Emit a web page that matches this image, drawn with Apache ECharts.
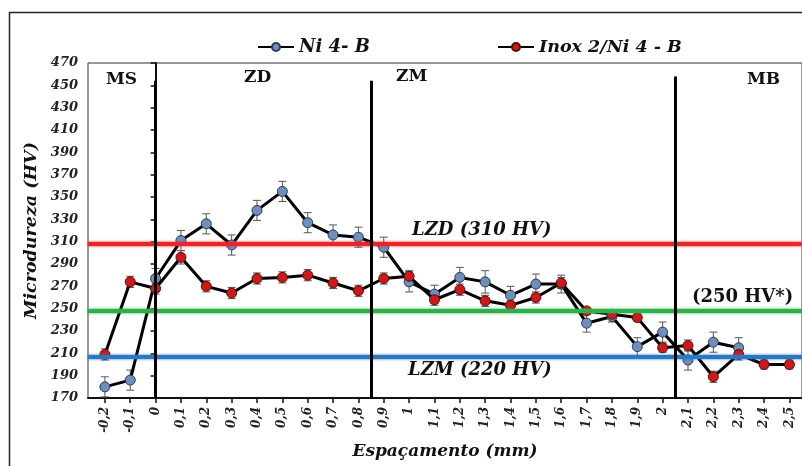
<!DOCTYPE html>
<html>
<head>
<meta charset="utf-8">
<script src="https://cdn.jsdelivr.net/npm/echarts@6/dist/echarts.min.js"></script>
<style>html,body{margin:0;padding:0;background:#fff}#c{width:802px;height:466px}</style>
</head>
<body>
<div id="c"></div>
<script>
// ---- data ----
const xLabels = ['-0,2','-0,1','0','0,1','0,2','0,3','0,4','0,5','0,6','0,7','0,8','0,9','1','1,1','1,2','1,3','1,4','1,5','1,6','1,7','1,8','1,9','2','2,1','2,2','2,3','2,4','2,5'];
const xValues = [-0.2,-0.1,0,0.1,0.2,0.3,0.4,0.5,0.6,0.7,0.8,0.9,1,1.1,1.2,1.3,1.4,1.5,1.6,1.7,1.8,1.9,2,2.1,2.2,2.3,2.4,2.5];
const ni4B = [180,186,277,311,326,307,338,355,327,316,314,305,274,263,278,274,262,272,272,237,243,216,229,204,220,215,null,null];
const ni4BErr = [9,9,9,9,9,9,9,9,9,9,9,9,9,8,9,10,8,9,8,8,5,8,9,9,9,9,null,null];
const inox2 = [209,274,268,296,270,264,277,278,280,273,266,277,279,258,267,257,253,260,273,248,245,242,215,217,189,209,200,200];
const inox2Err = [5,5,5,6,5,5,5,5,5,5,5,5,5,5,5,5,4,5,5,3,4,3,4,5,5,5,4,4];
const zoneBounds = [0, 0.85, 2.05];
const zoneTops = [454, 454, 458];
const refLevels = [308, 248, 207];
const refColors = ['#e5262b', '#2fae4e', '#2a78c0'];

const serif = 'DejaVu Serif';

function pairs(vals) { return xValues.map((x, i) => [x, vals[i]]); }
function errData(vals, errs) {
  const out = [];
  xValues.forEach((x, i) => { if (vals[i] != null && errs[i] != null) out.push([x, vals[i] - errs[i], vals[i] + errs[i]]); });
  return out;
}
function errRender(params, api) {
  const x = api.value(0);
  const lo = api.coord([x, api.value(1)]);
  const hi = api.coord([x, api.value(2)]);
  const w = 4;
  const st = { stroke: '#555', lineWidth: 1 };
  return { type: 'group', children: [
    { type: 'line', shape: { x1: lo[0], y1: lo[1], x2: hi[0], y2: hi[1] }, style: st },
    { type: 'line', shape: { x1: lo[0]-w, y1: lo[1], x2: lo[0]+w, y2: lo[1] }, style: st },
    { type: 'line', shape: { x1: hi[0]-w, y1: hi[1], x2: hi[0]+w, y2: hi[1] }, style: st }
  ]};
}
function fmtX(v) {
  let best = 0, d = 1e9;
  xValues.forEach((x, i) => { const dd = Math.abs(x - v); if (dd < d) { d = dd; best = i; } });
  return xLabels[best];
}
function txt(text, x, y, size, italic) {
  return { type: 'text', x: x, y: y, silent: true,
    style: { text: text, fontFamily: serif, fontSize: size, fontWeight: 'bold', fontStyle: italic ? 'italic' : 'normal', fill: '#111', verticalAlign: 'middle' } };
}

const chart = echarts.init(document.getElementById('c'), null, { renderer: 'canvas' });
chart.setOption({
  animation: false,
  backgroundColor: '#fff',
  textStyle: { fontFamily: serif },
  grid: { left: 88, top: 63, right: -5, bottom: 68, show: true, borderColor: '#333', borderWidth: 1, backgroundColor: 'transparent' },
  legend: [
    { data: ['Ni 4- B'], left: 252, top: 33, itemWidth: 36, itemHeight: 10, itemGap: 5,
      textStyle: { fontFamily: serif, fontWeight: 'bold', fontStyle: 'italic', fontSize: 18, color: '#111' } },
    { data: ['Inox 2/Ni 4 - B'], left: 492, top: 33, itemWidth: 36, itemHeight: 10, itemGap: 5,
      textStyle: { fontFamily: serif, fontWeight: 'bold', fontStyle: 'italic', fontSize: 17.5, color: '#111' } }
  ],
  xAxis: {
    type: 'value', min: -0.2666, max: 2.5497,
    name: 'Espaçamento (mm)', nameLocation: 'middle', nameGap: 45,
    nameTextStyle: { fontFamily: serif, fontWeight: 'bold', fontStyle: 'italic', fontSize: 17, color: '#111' },
    axisLine: { show: true, onZero: false, lineStyle: { color: '#111', width: 2 } },
    axisTick: { show: true, length: 5, customValues: xValues, lineStyle: { color: '#111', width: 1.5 } },
    axisLabel: { customValues: xValues, rotate: 90, margin: 9, formatter: fmtX,
      fontFamily: serif, fontWeight: 'bold', fontStyle: 'italic', fontSize: 12, color: '#222' },
    splitLine: { show: false }
  },
  yAxis: {
    type: 'value', min: 170, max: 470, interval: 20,
    name: 'Microdureza (HV)', nameLocation: 'middle', nameGap: 46,
    nameTextStyle: { fontFamily: serif, fontWeight: 'bold', fontStyle: 'italic', fontSize: 17.5, color: '#111' },
    axisLine: { show: true, lineStyle: { color: '#111', width: 2 } },
    axisTick: { show: true, length: 5, lineStyle: { color: '#111', width: 1.5 } },
    axisLabel: { margin: 10, fontFamily: serif, fontWeight: 'bold', fontStyle: 'italic', fontSize: 13, color: '#222' },
    splitLine: { show: false }
  },
  series: [
    { name: 'refs', type: 'line', data: [], z: 1, silent: true,
      markLine: { symbol: 'none', silent: true, animation: false, label: { show: false },
        data: refLevels.map((v, i) => ({ yAxis: v, lineStyle: { color: refColors[i], width: 4, type: 'solid', shadowColor: refColors[i], shadowBlur: 3 } }))
          .concat(zoneBounds.map((b, i) => [
            { coord: [b, zoneTops[i]], lineStyle: { color: '#000', width: 3, type: 'solid' } },
            { coord: [b, 170] }
          ]))
      }
    },
    { name: 'errNi', type: 'custom', renderItem: errRender, data: errData(ni4B, ni4BErr), z: 2, silent: true },
    { name: 'errInox', type: 'custom', renderItem: errRender, data: errData(inox2, inox2Err), z: 2, silent: true },
    { name: 'Ni 4- B', type: 'line', data: pairs(ni4B), z: 3, symbol: 'circle', symbolSize: 10,
      lineStyle: { color: '#000', width: 3 },
      itemStyle: { color: '#6f8fbb', borderColor: '#2b3c55', borderWidth: 1 } },
    { name: 'Inox 2/Ni 4 - B', type: 'line', data: pairs(inox2), z: 4, symbol: 'circle', symbolSize: 10,
      lineStyle: { color: '#000', width: 3 },
      itemStyle: { color: '#cc1a1a', borderColor: '#5a0a0a', borderWidth: 1 } }
  ],
  graphic: [
    { type: 'rect', shape: { x: 9.5, y: 12.5, width: 900, height: 600 }, style: { fill: 'none', stroke: '#222', lineWidth: 1.5 }, silent: true },
    txt('MS', 106, 80, 17, false),
    txt('ZD', 244, 78, 17, false),
    txt('ZM', 396, 77, 17, false),
    txt('MB', 747, 80, 17, false),
    txt('LZD (310 HV)', 412, 230, 18, true),
    txt('(250 HV*)', 692, 297, 18, false),
    txt('LZM (220 HV)', 408, 370, 18, true)
  ]
});
</script>
</body>
</html>
